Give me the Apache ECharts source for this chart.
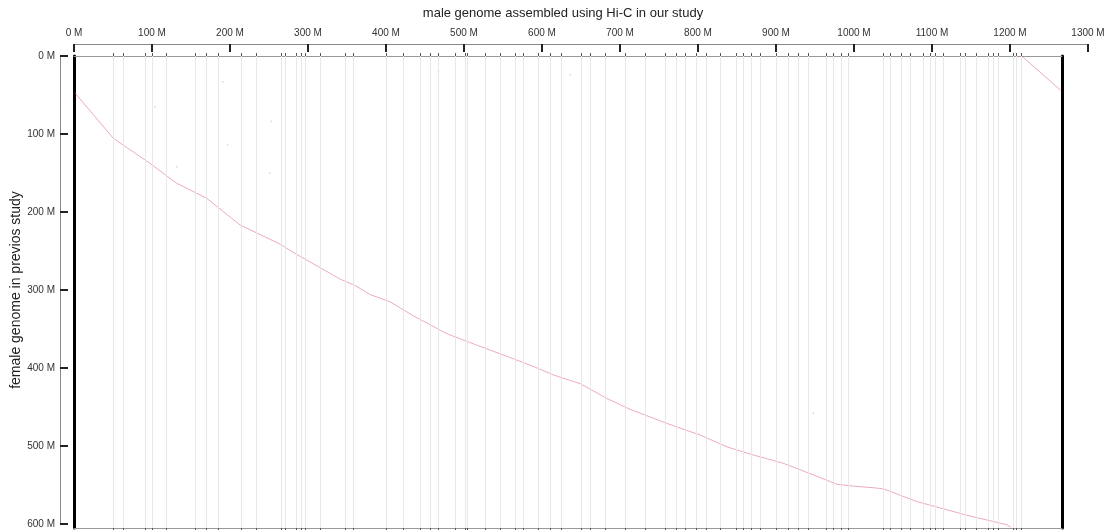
<!DOCTYPE html>
<html><head><meta charset="utf-8">
<script src="https://cdn.jsdelivr.net/npm/echarts@6/dist/echarts.min.js"></script>
<style>html,body{margin:0;padding:0;background:#fff}#c{width:1111px;height:530px}</style>
</head><body><div id="c"></div>
<script>
// ---- data (values in Mb) ----
const topTicks = [0,100,200,300,400,500,600,700,800,900,1000,1100,1200,1300];
const leftTicks = [0,100,200,300,400,500,600];
const maleLength = 1266.7;    // extent of male genome (x)
const femaleLength = 605.1;   // extent of female genome (y)
const boundaries = [50.4,63.2,91,100.9,118.8,155.1,170.1,185,215,234.2,266.3,270.5,285.5,291.9,296,315.4,347.4,358.1,
  400.9,422.2,443.6,456.4,467.1,488.5,501.3,504.7,526.9,546.2,565.4,576,595.3,610.3,625.3,650.9,661.5,680.8,706.4,
  732.1,757.7,772.7,783.3,798.3,811.2,828.2,849.6,858.1,868.8,879.5,900.9,915.8,928.6,941.4,965,973.5,984.2,992.7,
  1037.6,1046.2,1061.2,1071.8,1088.8,1097.4,1103.8,1114.5,1135.9,1142.3,1157.3,1172.2,1178.6,1185,1204.2,1208.6,1215];
const alignMain = [[1,47],[3.5,50],[50.4,105.5],[97.4,137.6],[131.7,163.2],[170.1,182.4],[213,216.7],[251.3,235],
  [264,241],[283,253],[315,271],[341,286],[360,294],[380,306],[405,315],[435,333],[478,356],[512,369],[555,385],
  [589,398],[615,409],[649,420],[683,439],[713,453],[760,471],[803,486],[837,501],[871,511.5],[909,522],[948,537],
  [978,549],[995,551],[1030,554],[1038,555],[1080,571],[1144,588.5],[1196,601],[1201,604]];
const alignWrap = [[1215,0],[1240,22],[1265,44]];
const noise = [[191,33],[104,65],[197,114],[251,150],[253,84],[132,142],[467,20],[636,24],[948,458]];

const FONT = 'Liberation Sans, Arial, sans-serif';
const chart = echarts.init(document.getElementById('c'), null, {renderer:'canvas'});
const fmt = v => v + ' M';

chart.setOption({
  animation: false,
  backgroundColor: '#fff',
  title: {
    text: 'male genome assembled using Hi-C in our study',
    left: 563, top: 0, textAlign: 'center', padding: [7,0,0,0],
    textStyle: {fontFamily: FONT, fontSize: 13, fontWeight: 'normal', color: '#222'}
  },
  grid: [
    {left: 74, top: 56, width: 988, height: 472},   // main plot
    {left: 74, top: 44, width: 1014, height: 10},   // top labelled axis
    {left: 60, top: 56, width: 10, height: 468}     // left labelled axis
  ],
  xAxis: [
    {gridIndex: 1, type: 'value', position: 'top', min: 0, max: 1300, interval: 100,
      axisLine: {show: true, onZero: false, lineStyle: {color: '#888', width: 1}},
      axisTick: {show: true, inside: true, length: 8, lineStyle: {color: '#222', width: 2}},
      axisLabel: {show: true, formatter: fmt, margin: 6, fontFamily: FONT, fontSize: 10, color: '#333'},
      splitLine: {show: false}},
    {gridIndex: 2, type: 'value', show: false, min: 0, max: 1},
    {gridIndex: 0, type: 'value', position: 'top', min: 0, max: maleLength,
      axisLine: {show: true, onZero: false, lineStyle: {color: '#999', width: 1}},
      axisTick: {show: true, customValues: boundaries, length: 3, lineStyle: {color: '#555', width: 1}},
      axisLabel: {show: false}, splitLine: {show: false}},
    {gridIndex: 0, type: 'value', position: 'bottom', min: 0, max: maleLength,
      axisLine: {show: true, onZero: false, lineStyle: {color: '#999', width: 1}},
      axisTick: {show: true, customValues: boundaries, length: 3, lineStyle: {color: '#555', width: 1}},
      axisLabel: {show: false}, splitLine: {show: false}}
  ],
  yAxis: [
    {gridIndex: 1, type: 'value', show: false, min: 0, max: 1},
    {gridIndex: 2, type: 'value', position: 'left', inverse: true, min: 0, max: 600, interval: 100,
      name: 'female genome in previos study', nameLocation: 'middle', nameGap: 37, nameRotate: 90,
      nameTextStyle: {fontFamily: FONT, fontSize: 14, color: '#222'},
      axisLine: {show: true, onZero: false, lineStyle: {color: '#888', width: 1}},
      axisTick: {show: true, inside: true, length: 8, lineStyle: {color: '#222', width: 2}},
      axisLabel: {show: true, formatter: fmt, margin: 5, fontFamily: FONT, fontSize: 10, color: '#333'},
      splitLine: {show: false}},
    {gridIndex: 0, type: 'value', position: 'left', inverse: true, min: 0, max: femaleLength,
      axisLine: {show: true, onZero: false, lineStyle: {color: '#000', width: 3}},
      axisTick: {show: false}, axisLabel: {show: false}, splitLine: {show: false}},
    {gridIndex: 0, type: 'value', position: 'right', inverse: true, min: 0, max: femaleLength,
      axisLine: {show: true, onZero: false, lineStyle: {color: '#000', width: 3}},
      axisTick: {show: false}, axisLabel: {show: false}, splitLine: {show: false}}
  ],
  series: [
    {type: 'scatter', xAxisIndex: 2, yAxisIndex: 2, data: noise, symbolSize: 2, silent: true,
      itemStyle: {color: 'rgba(230,140,155,0.45)'},
      markLine: {silent: true, symbol: ['none','none'], label: {show: false},
        lineStyle: {color: '#e8e8e8', width: 1, type: 'solid'},
        emphasis: {disabled: true},
        data: boundaries.map(v => ({xAxis: v}))}},
    {type: 'line', xAxisIndex: 2, yAxisIndex: 2, data: alignMain, symbol: 'none', silent: true,
      lineStyle: {color: 'rgba(220,90,115,0.5)', width: 1}},
    {type: 'line', xAxisIndex: 2, yAxisIndex: 2, data: alignWrap, symbol: 'none', silent: true,
      lineStyle: {color: 'rgba(220,90,115,0.5)', width: 1}}
  ]
});
</script>
</body></html>
